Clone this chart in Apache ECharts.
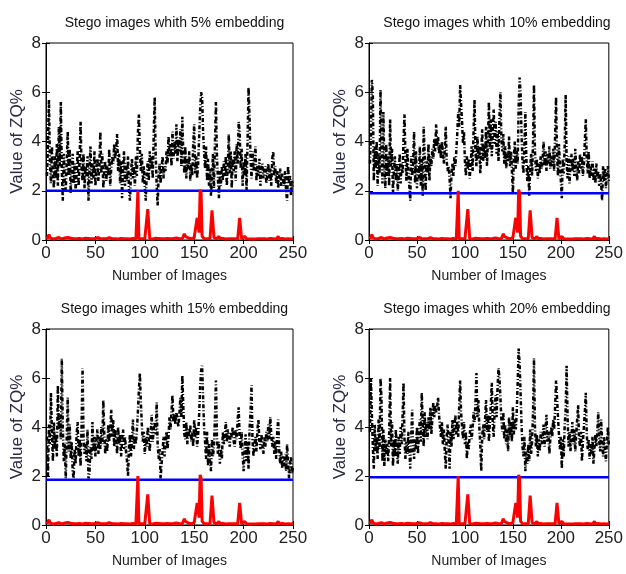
<!DOCTYPE html>
<html>
<head>
<meta charset="utf-8">
<script src="https://cdn.jsdelivr.net/npm/echarts@6/dist/echarts.min.js"></script>
<style>
  html, body { margin: 0; padding: 0; background: #fff; }
  #chart { width: 626px; height: 574px; }
</style>
</head>
<body>
<div id="chart"></div>
<script>
// ZQ% values of the 250 stego images, one array per embedding rate
const zq5 = [
  2.6, 4.0, 5.7, 3.1, 2.3, 3.8, 2.7, 2.1, 3.4, 2.5,
  3.9, 2.2, 4.6, 3.0, 5.6, 2.8, 1.6, 3.5, 2.4, 2.0,
  3.2, 4.4, 2.6, 3.7, 1.9, 2.9, 3.5, 2.3, 3.1, 2.0,
  2.7, 3.6, 2.2, 3.2, 4.8, 2.9, 2.4, 3.5, 2.1, 3.0,
  2.6, 3.4, 1.6, 2.8, 3.8, 2.3, 3.1, 2.5, 3.6, 2.2,
  2.9, 3.3, 2.4, 3.0, 4.4, 2.7, 3.5, 2.1, 2.8, 3.2,
  2.4, 3.0, 2.6, 3.7, 2.2, 2.9, 3.4, 3.1, 3.9, 3.3,
  3.7, 4.3, 2.8, 3.5, 2.3, 3.2, 1.7, 2.9, 3.6, 2.2,
  3.1, 2.4, 3.4, 2.0, 1.6, 2.7, 3.3, 2.5, 3.0, 2.2,
  3.4, 2.6, 4.3, 5.1, 3.7, 2.8, 3.5, 2.3, 3.0, 2.1,
  1.6, 2.7, 3.2, 2.4, 3.6, 2.9, 3.4, 2.5, 4.2, 5.8,
  3.5, 2.2, 1.4, 2.6, 3.1, 2.3, 2.9, 3.4, 2.5, 3.0,
  2.8, 3.6, 3.1, 4.2, 3.4, 3.9, 3.0, 4.4, 3.3, 4.0,
  3.5, 4.7, 3.2, 4.1, 3.6, 4.5, 3.0, 5.0, 3.4, 2.7,
  3.8, 2.5, 3.3, 2.9, 3.6, 2.4, 3.1, 2.6, 3.9, 4.7,
  2.7, 3.4, 2.5, 3.1, 4.2, 5.3, 6.0, 5.8, 4.4, 3.6,
  2.9, 3.8, 2.4, 3.3, 2.2, 2.9, 1.8, 2.6, 3.5, 2.1,
  3.9, 5.6, 3.4, 2.5, 1.7, 2.8, 2.2, 3.0, 2.4, 3.2,
  2.6, 3.4, 2.2, 3.0, 4.3, 2.7, 3.6, 2.1, 3.3, 2.8,
  3.6, 2.4, 3.9, 3.1, 4.8, 4.4, 2.9, 3.7, 2.2, 3.2,
  2.6, 3.5, 2.0, 4.0, 6.2, 5.0, 3.3, 2.5, 3.6, 2.8,
  3.2, 3.8, 2.4, 3.0, 2.6, 3.3, 2.2, 2.9, 3.1, 2.5,
  2.8, 3.0, 2.3, 2.7, 3.1, 2.4, 2.9, 2.2, 3.3, 3.6,
  2.6, 3.0, 2.3, 2.8, 2.1, 2.6, 2.9, 2.2, 2.7, 2.4,
  2.2, 2.8, 2.0, 1.6, 3.0, 2.3, 2.6, 1.8, 2.4, 2.1
];
const zq10 = [
  3.1, 4.2, 6.5, 5.9, 2.4, 3.8, 2.9, 4.0, 2.2, 3.5,
  2.7, 6.1, 3.6, 2.3, 5.2, 3.1, 2.1, 3.9, 2.6, 3.4,
  2.2, 4.9, 3.0, 3.7, 1.9, 2.8, 3.4, 2.4, 3.1, 2.0,
  2.6, 3.5, 2.3, 3.1, 2.7, 4.1, 5.1, 3.3, 2.4, 3.7,
  2.8, 2.2, 1.6, 3.4, 2.6, 3.1, 4.4, 2.3, 3.6, 2.1,
  3.0, 2.5, 3.8, 2.2, 3.3, 1.8, 4.6, 3.5, 2.0, 3.2,
  2.7, 3.9, 2.4, 3.4, 3.0, 3.7, 3.3, 4.1, 3.6, 4.7,
  3.8, 4.2, 3.5, 3.9, 3.3, 4.0, 3.6, 3.1, 3.7, 4.6,
  3.2, 2.8, 3.0, 2.5, 1.7, 2.7, 3.1, 2.6, 3.4, 3.0,
  3.6, 4.3, 5.2, 4.6, 6.3, 5.5, 4.8, 3.9, 4.4, 3.2,
  2.6, 3.4, 2.9, 3.3, 2.5, 3.1, 3.8, 2.8, 4.4, 5.7,
  3.6, 3.0, 4.2, 3.3, 3.8, 2.7, 3.5, 4.5, 3.2, 3.9,
  3.3, 4.6, 3.0, 4.1, 5.6, 3.7, 4.9, 3.4, 4.3, 5.3,
  3.9, 4.8, 3.5, 4.4, 3.2, 5.0, 6.0, 4.1, 3.6, 4.3,
  3.1, 3.8, 2.9, 3.5, 3.2, 4.2, 3.0, 3.6, 2.8, 1.9,
  3.4, 4.0, 2.9, 3.6, 3.1, 5.4, 6.6, 6.0, 4.3, 3.2,
  2.7, 3.8, 5.2, 3.3, 2.4, 3.0, 1.8, 2.9, 3.5, 2.6,
  4.0, 6.3, 3.6, 2.8, 3.3, 2.5, 3.1, 2.7, 3.4, 2.9,
  3.3, 4.0, 3.0, 3.6, 2.8, 3.5, 3.1, 3.8, 2.9, 3.4,
  3.0, 3.7, 2.8, 4.2, 5.8, 3.4, 2.6, 3.9, 3.1, 2.4,
  1.7, 3.3, 2.7, 3.8, 5.9, 3.2, 2.5, 3.4, 2.3, 3.0,
  3.5, 2.8, 3.3, 2.6, 3.7, 3.0, 2.4, 3.2, 2.7, 3.5,
  2.9, 3.4, 2.6, 3.1, 4.0, 4.9, 3.3, 2.7, 3.6, 2.5,
  3.0, 2.6, 3.2, 2.4, 2.9, 2.3, 3.1, 2.5, 2.8, 2.2,
  2.7, 2.3, 1.6, 3.0, 2.4, 2.9, 2.1, 2.6, 3.0, 2.4
];
const zq15 = [
  3.6, 2.0, 4.1, 3.3, 5.4, 3.8, 2.6, 4.2, 3.1, 3.7,
  2.8, 5.7, 3.9, 4.4, 3.5, 6.8, 4.0, 2.6, 3.3, 1.9,
  3.6, 5.2, 3.0, 4.1, 2.7, 3.4, 2.2, 1.9, 3.1, 2.5,
  3.7, 4.2, 2.8, 3.5, 2.4, 4.0, 6.4, 3.6, 2.9, 3.3,
  2.6, 3.9, 1.9, 2.1, 3.2, 2.7, 4.2, 3.0, 3.6, 2.8,
  3.4, 3.9, 2.9, 3.6, 3.1, 4.0, 3.3, 5.1, 3.7, 2.9,
  3.5, 3.0, 4.1, 3.4, 3.8, 4.7, 3.6, 4.3, 3.2, 3.9,
  3.5, 2.9, 4.0, 3.3, 3.7, 2.8, 3.4, 3.9, 3.1, 3.6,
  3.0, 2.6, 2.0, 3.2, 3.7, 2.8, 3.5, 4.3, 3.1, 3.6,
  3.3, 3.9, 4.6, 5.5, 6.2, 5.0, 4.1, 3.4, 3.8, 2.9,
  3.6, 3.2, 4.0, 3.5, 3.0, 3.8, 4.5, 3.4, 3.9, 4.2,
  3.7, 5.0, 3.3, 2.7, 3.1, 1.9, 2.5, 3.0, 3.6, 2.8,
  3.4, 3.8, 3.1, 3.6, 4.4, 3.9, 4.6, 5.3, 4.2, 4.5,
  4.1, 4.6, 4.3, 4.0, 4.5, 5.2, 4.4, 6.1, 4.8, 3.7,
  3.5, 4.2, 3.3, 3.9, 3.6, 4.1, 3.4, 3.8, 3.2, 4.3,
  3.6, 4.0, 3.2, 3.7, 4.5, 5.6, 6.3, 6.5, 5.2, 4.0,
  3.4, 2.7, 3.8, 2.4, 3.3, 2.6, 2.2, 3.5, 2.8, 3.2,
  4.4, 5.9, 3.6, 2.9, 3.4, 2.5, 3.1, 2.7, 3.8, 3.3,
  3.7, 4.2, 3.4, 3.9, 3.5, 3.2, 3.8, 3.6, 4.0, 3.4,
  3.2, 3.9, 3.5, 4.3, 4.8, 3.6, 3.1, 3.8, 2.9, 2.2,
  3.0, 3.7, 2.6, 3.4, 2.3, 3.9, 4.6, 5.7, 3.5, 2.8,
  3.3, 3.6, 3.0, 3.9, 4.3, 3.4, 3.1, 3.7, 3.3, 2.9,
  3.6, 3.2, 3.8, 3.4, 4.1, 3.5, 4.4, 3.7, 3.2, 3.6,
  2.9, 3.4, 2.7, 3.8, 4.3, 3.1, 2.5, 3.0, 2.3, 2.8,
  2.4, 2.9, 2.2, 3.3, 2.6, 1.9, 2.5, 2.8, 2.1, 2.4
];
const zq20 = [
  3.8, 6.0, 4.5, 3.2, 2.3, 4.1, 3.0, 3.6, 2.7, 4.3,
  3.1, 6.0, 5.2, 2.6, 3.9, 2.4, 3.5, 2.9, 3.3, 2.6,
  3.7, 6.0, 3.2, 4.2, 2.4, 3.5, 2.8, 3.9, 3.1, 2.5,
  3.6, 2.9, 4.0, 3.3, 4.4, 5.8, 3.5, 2.7, 3.4, 2.9,
  3.8, 3.2, 2.3, 3.6, 4.7, 3.0, 2.7, 3.5, 3.1, 4.0,
  2.9, 3.7, 4.3, 3.4, 5.4, 4.1, 3.2, 4.6, 3.6, 4.2,
  3.5, 4.4, 3.9, 4.8, 3.7, 4.3, 5.0, 4.4, 4.9, 4.6,
  4.8, 5.2, 4.5, 4.0, 3.6, 4.2, 3.3, 3.9, 3.0, 2.3,
  3.6, 4.1, 3.4, 2.3, 3.8, 3.2, 4.3, 3.5, 3.9, 4.5,
  3.7, 4.2, 3.6, 4.8, 5.9, 4.6, 4.0, 3.5, 4.2, 3.3,
  3.8, 2.7, 3.4, 3.1, 3.7, 4.1, 3.5, 3.9, 4.6, 4.2,
  5.0, 6.2, 4.4, 5.1, 4.0, 3.3, 2.2, 3.6, 4.1, 3.5,
  4.3, 5.1, 3.8, 4.5, 3.4, 4.2, 4.9, 5.8, 4.1, 3.6,
  4.7, 5.3, 4.4, 5.6, 6.4, 6.0, 5.2, 4.3, 3.8, 4.6,
  3.5, 4.1, 3.3, 3.9, 3.0, 4.4, 3.6, 4.2, 3.4, 4.8,
  3.7, 4.3, 3.9, 4.6, 5.8, 7.2, 6.6, 5.4, 4.1, 3.2,
  2.8, 3.6, 2.2, 3.0, 2.5, 3.3, 2.6, 3.9, 2.9, 3.4,
  4.6, 6.8, 4.0, 3.2, 3.7, 2.8, 3.5, 3.0, 3.8, 3.3,
  3.6, 4.1, 3.2, 3.9, 4.5, 3.4, 3.8, 2.9, 3.5, 4.0,
  3.6, 4.3, 3.9, 4.8, 5.9, 5.2, 4.4, 3.7, 3.1, 3.6,
  2.3, 3.5, 2.8, 4.1, 4.7, 6.5, 4.4, 3.2, 3.8, 3.0,
  3.6, 4.2, 3.3, 3.9, 3.0, 3.7, 4.3, 4.9, 3.5, 3.2,
  3.8, 2.6, 3.4, 4.0, 4.6, 5.4, 3.7, 3.1, 3.5, 2.7,
  3.3, 2.9, 3.6, 2.5, 3.1, 3.7, 3.2, 3.8, 4.6, 3.4,
  3.0, 4.3, 3.5, 2.8, 3.6, 3.1, 2.6, 3.4, 4.0, 3.2
];
// ZQ% of the cover images (same red curve in every panel)
const zqCover = [
  0.05, 0.12, 0.22, 0.10, 0.05, 0.06, 0.04, 0.08, 0.05, 0.06,
  0.05, 0.04, 0.10, 0.05, 0.06, 0.04, 0.12, 0.05, 0.08, 0.05,
  0.06, 0.10, 0.05, 0.04, 0.07, 0.05, 0.12, 0.05, 0.06, 0.04,
  0.05, 0.08, 0.05, 0.06, 0.14, 0.05, 0.04, 0.06, 0.05, 0.07,
  0.05, 0.04, 0.06, 0.05, 0.10, 0.05, 0.06, 0.04, 0.05, 0.06,
  0.05, 0.10, 0.04, 0.05, 0.06, 0.05, 0.12, 0.05, 0.04, 0.06,
  0.05, 0.07, 0.05, 0.10, 0.18, 0.06, 0.05, 0.04, 0.06, 0.05,
  0.08, 0.05, 0.04, 0.10, 0.05, 0.06, 0.05, 0.12, 0.05, 0.04,
  0.06, 0.05, 0.10, 0.05, 0.04, 0.12, 0.05, 0.06, 0.05, 0.05,
  0.04, 0.06, 2.00, 0.05, 0.10, 0.06, 0.05, 0.04, 0.12, 0.05,
  0.06, 0.05, 1.25, 1.20, 0.05, 0.10, 0.05, 0.04, 0.06, 0.05,
  0.07, 0.05, 0.04, 0.06, 0.05, 0.10, 0.05, 0.04, 0.06, 0.05,
  0.04, 0.05, 0.06, 0.05, 0.04, 0.05, 0.10, 0.05, 0.06, 0.04,
  0.05, 0.08, 0.05, 0.06, 0.05, 0.12, 0.06, 0.05, 0.10, 0.25,
  0.15, 0.10, 0.12, 0.08, 0.06, 0.10, 0.05, 0.08, 0.06, 0.10,
  0.12, 0.15, 0.90, 0.85, 0.30, 2.05, 1.90, 0.15, 0.08, 0.06,
  0.05, 0.10, 0.05, 0.06, 0.04, 0.05, 0.08, 1.20, 1.15, 0.10,
  0.05, 0.06, 0.05, 0.08, 0.15, 0.06, 0.05, 0.04, 0.06, 0.05,
  0.05, 0.04, 0.06, 0.05, 0.05, 0.04, 0.06, 0.05, 0.04, 0.05,
  0.05, 0.06, 0.05, 0.04, 0.06, 0.90, 0.85, 0.05, 0.06, 0.10,
  0.15, 0.08, 0.05, 0.06, 0.05, 0.04, 0.06, 0.05, 0.04, 0.05,
  0.05, 0.04, 0.05, 0.06, 0.05, 0.04, 0.05, 0.05, 0.06, 0.04,
  0.05, 0.06, 0.05, 0.04, 0.05, 0.05, 0.06, 0.04, 0.05, 0.05,
  0.10, 0.05, 0.04, 0.06, 0.15, 0.05, 0.04, 0.05, 0.06, 0.05,
  0.05, 0.04, 0.06, 0.05, 0.05, 0.10, 0.05, 0.04, 0.06, 0.05
];
const thresholds = [2.0, 1.9, 1.85, 1.95];
const rates = ['5%', '10%', '15%', '20%'];
const stegoSets = [zq5, zq10, zq15, zq20];
const xTicks = [0, 50, 100, 150, 200, 250];
const yTicks = [0, 2, 4, 6, 8];

const chart = echarts.init(document.getElementById('chart'))
const font = '"Liberation Sans", Arial, sans-serif'

const boxes = [
  { left: 46, top: 43, width: 247, height: 197 },
  { left: 369, top: 43, width: 246, height: 197 },
  { left: 46, top: 329, width: 247, height: 196 },
  { left: 369, top: 329, width: 246, height: 196 }
]

const grid = []
const xAxis = []
const yAxis = []
const series = []
const title = []

const toPoints = (arr) => arr.map((v, i) => [i + 1, v])

boxes.forEach((b, k) => {
  grid.push({ left: b.left, top: b.top, width: b.width, height: b.height, show: true, borderColor: '#000', borderWidth: 1 })
  title.push({
    text: 'Stego images whith ' + rates[k] + ' embedding',
    left: b.left + b.width / 2,
    top: b.top - 32,
    textAlign: 'center',
    textStyle: { fontFamily: font, fontSize: 14, fontWeight: 'normal', color: '#111' }
  })
  const tickStyle = { show: true, inside: true, length: 4, lineStyle: { color: '#000' } }
  // bottom / left axes carry the labels
  xAxis.push({
    gridIndex: k, type: 'value', min: xTicks[0], max: xTicks[xTicks.length - 1], interval: 50,
    position: 'bottom',
    name: 'Number of Images', nameLocation: 'middle', nameGap: 29,
    nameTextStyle: { fontFamily: font, fontSize: 14, color: '#222' },
    axisLine: { show: true, lineStyle: { color: '#000' } },
    axisTick: tickStyle,
    axisLabel: { fontFamily: font, fontSize: 17, color: '#222', margin: 5 },
    splitLine: { show: false }
  })
  yAxis.push({
    gridIndex: k, type: 'value', min: yTicks[0], max: yTicks[yTicks.length - 1], interval: 2,
    position: 'left',
    name: 'Value of ZQ%', nameLocation: 'middle', nameGap: 20,
    nameTextStyle: { fontFamily: font, fontSize: 17, color: '#2a2a44' },
    axisLine: { show: true, lineStyle: { color: '#000' } },
    axisTick: tickStyle,
    axisLabel: { fontFamily: font, fontSize: 17, color: '#222', margin: 5 },
    splitLine: { show: false }
  })
  // top / right axes only repeat the ticks, like the MATLAB box
  xAxis.push({
    gridIndex: k, type: 'value', min: 0, max: 250, interval: 50, position: 'top',
    axisLine: { show: false }, axisTick: tickStyle, axisLabel: { show: false }, splitLine: { show: false }
  })
  yAxis.push({
    gridIndex: k, type: 'value', min: 0, max: 8, interval: 2, position: 'right',
    axisLine: { show: false }, axisTick: tickStyle, axisLabel: { show: false }, splitLine: { show: false }
  })

  series.push({
    type: 'line', xAxisIndex: 2 * k, yAxisIndex: 2 * k, data: toPoints(stegoSets[k]),
    symbol: 'none', silent: true,
    lineStyle: { color: '#000', width: 2.5, type: [4, 2, 1, 2] }
  })
  series.push({
    type: 'line', xAxisIndex: 2 * k, yAxisIndex: 2 * k,
    data: [[xTicks[0], thresholds[k]], [xTicks[xTicks.length - 1], thresholds[k]]],
    symbol: 'none', silent: true,
    lineStyle: { color: '#0000ff', width: 2.5 }
  })
  series.push({
    type: 'line', xAxisIndex: 2 * k, yAxisIndex: 2 * k, data: toPoints(zqCover),
    symbol: 'none', silent: true,
    lineStyle: { color: '#ff0000', width: 3 }
  })
})

const option = {
  animation: false,
  backgroundColor: '#fff',
  title: title,
  grid: grid,
  xAxis: xAxis,
  yAxis: yAxis,
  series: series
}
chart.setOption(option)
</script>
</body>
</html>
